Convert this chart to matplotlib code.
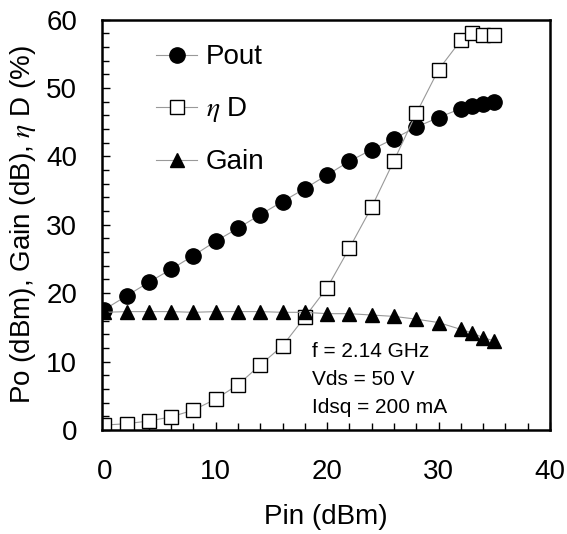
import matplotlib.pyplot as plt
from matplotlib.ticker import MultipleLocator

plt.rcParams['font.family'] = ['Liberation Sans', 'DejaVu Sans']
plt.rcParams['mathtext.fontset'] = 'stix'

# Measured power sweep at 2.14 GHz
pin = [0, 2, 4, 6, 8, 10, 12, 14, 16, 18, 20, 22, 24, 26, 28, 30, 32, 33, 34, 35]
pout = [17.6, 19.6, 21.6, 23.5, 25.5, 27.6, 29.5, 31.5, 33.4, 35.3,
        37.3, 39.3, 41.0, 42.6, 44.3, 45.7, 47.0, 47.4, 47.7, 47.9]
eff = [0.7, 0.9, 1.3, 1.9, 2.9, 4.5, 6.6, 9.5, 12.3, 16.5,
       20.8, 26.6, 32.6, 39.4, 46.3, 52.7, 57.0, 58.1, 57.7, 57.7]
gain = [17.2, 17.3, 17.3, 17.3, 17.2, 17.3, 17.3, 17.3, 17.2, 17.2,
        17.0, 17.0, 16.8, 16.6, 16.2, 15.7, 14.7, 14.2, 13.5, 13.0]

fig = plt.figure(figsize=(5.67, 5.34), dpi=100)
ax = fig.add_axes([0.180, 0.195, 0.790, 0.768])

line_kw = dict(color='#999999', linewidth=0.8)
ax.plot(pin, pout, marker='o', markersize=11, markerfacecolor='black',
        markeredgecolor='black', label='Pout', **line_kw)
ax.plot(pin, eff, marker='s', markersize=10, markerfacecolor='white',
        markeredgecolor='black', markeredgewidth=1.0, label=r'$\eta$ D', **line_kw)
ax.plot(pin, gain, marker='^', markersize=10, markerfacecolor='black',
        markeredgecolor='black', label='Gain', **line_kw)

ax.set_xlim(-0.2, 40)
ax.set_ylim(0, 60)
ax.xaxis.set_major_locator(MultipleLocator(10))
ax.xaxis.set_minor_locator(MultipleLocator(2))
ax.yaxis.set_major_locator(MultipleLocator(10))
ax.yaxis.set_minor_locator(MultipleLocator(2))
ax.tick_params(axis='both', which='both', direction='in', top=False, right=False,
               labelsize=20, width=1.0)
ax.tick_params(axis='both', which='major', length=6)
ax.tick_params(axis='both', which='minor', length=5)
ax.tick_params(axis='x', which='major', pad=21)
ax.tick_params(axis='y', which='major', pad=18)
for side in ax.spines.values():
    side.set_linewidth(1.8)

ax.set_xlabel('Pin (dBm)', fontsize=20, labelpad=14)
ax.set_ylabel(r'Po (dBm), Gain (dB), $\eta$ D (%)', fontsize=20, labelpad=6)

ax.legend(loc='upper left', bbox_to_anchor=(0.12, 0.94), frameon=False,
          fontsize=20, handlelength=1.5, handletextpad=0.3, labelspacing=0.9,
          borderpad=0, borderaxespad=0)

ax.text(18.6, 11.5, 'f = 2.14 GHz', fontsize=15, va='center')
ax.text(18.6, 7.3, 'Vds = 50 V', fontsize=15, va='center')
ax.text(18.6, 3.2, 'Idsq = 200 mA', fontsize=15, va='center')

fig.savefig('out.png', dpi=100)
